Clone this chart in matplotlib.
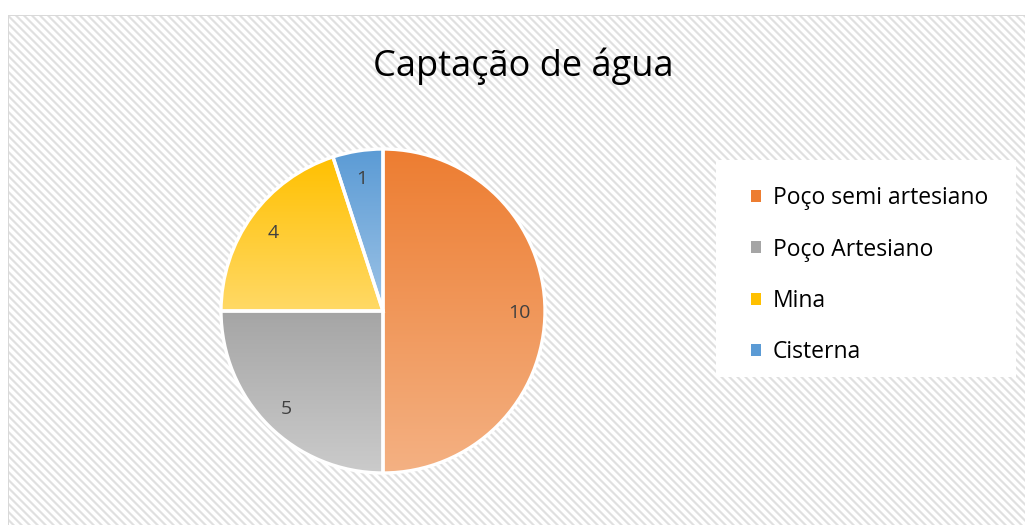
import numpy as np
import matplotlib
matplotlib.use("Agg")
import matplotlib.pyplot as plt
from matplotlib.colors import LinearSegmentedColormap, to_rgb

# ---- data ----
title = "Captação de água"
categories = ["Poço semi artesiano", "Poço Artesiano", "Mina", "Cisterna"]
values = [10, 5, 4, 1]
top_colors = ["#ED7D31", "#A5A5A5", "#FFC000", "#5B9BD5"]
bottom_colors = ["#F4B183", "#CBCBCB", "#FFD966", "#9DC3E6"]

W, H = 1025, 525
fig = plt.figure(figsize=(W / 100, H / 100), dpi=100)
fig.patch.set_facecolor("white")

# ---- background hatch (chart area) ----
bg = fig.add_axes([0, 0, 1, 1], zorder=0)
yy, xx = np.mgrid[0:H, 0:W]
phase = (xx - yy) % 8
img = np.ones((H, W, 3))
g1 = np.array(to_rgb("#E0E0E0"))
g2 = np.array(to_rgb("#EEEEEE"))
img[(phase == 0) | (phase == 1)] = g1
img[(phase == 2) | (phase == 7)] = g2
outside = (xx < 8) | (yy < 15)
img[outside] = 1.0
border = ((xx == 8) & (yy >= 15)) | ((yy == 15) & (xx >= 8))
img[border] = np.array(to_rgb("#D9D9D9"))
bg.imshow(img, extent=[0, W, H, 0], interpolation="nearest", aspect="auto")
bg.set_xlim(0, W)
bg.set_ylim(H, 0)
bg.axis("off")

# legend white box
bg.add_patch(plt.Rectangle((716, 160), 300, 217, facecolor="white", edgecolor="none"))

# ---- pie ----
cx, cy, r = 383, 311, 162
ax = fig.add_axes([(cx - r) / W, (H - cy - r) / H, 2 * r / W, 2 * r / H], zorder=2)
ax.set_xlim(-1, 1)
ax.set_ylim(-1, 1)
ax.axis("off")

wedges, texts = ax.pie(values, startangle=90, counterclock=False, radius=1,
                       labels=[str(v) for v in values], labeldistance=0.84,
                       wedgeprops=dict(linewidth=0, edgecolor="none"),
                       textprops=dict(fontsize=14, color="#404040", family="Open Sans"))
for w, t, b in zip(wedges, top_colors, bottom_colors):
    w.set_facecolor("none")
    bb = w.get_path().get_extents(w.get_patch_transform())
    cmap = LinearSegmentedColormap.from_list("g", [t, b])
    grad = np.linspace(0, 1, 256).reshape(-1, 1)
    im = ax.imshow(grad, cmap=cmap, extent=[bb.x0, bb.x1, bb.y0, bb.y1],
                   origin="upper", aspect="auto", zorder=1, interpolation="bilinear")
    im.set_clip_path(w)
    w.set_edgecolor("white")
    w.set_linewidth(2.4)
    w.set_zorder(2)
for t in texts:
    t.set_zorder(3)
    t.set_ha("center")
    t.set_va("center_baseline")
ax.set_xlim(-1, 1)
ax.set_ylim(-1, 1)

# ---- title ----
fig.text(523 / W, 1 - 66 / H, title, ha="center", va="center", fontsize=26,
         family="Open Sans", color="black")

# ---- legend ----
handles = [plt.Rectangle((0, 0), 1, 1, facecolor=c, edgecolor="none") for c in top_colors]
leg = fig.legend(handles, categories, loc="upper left",
                 bbox_to_anchor=(751 / W, 1 - 186 / H), frameon=False,
                 prop=dict(family="Open Sans", size=16.5), handlelength=0.45,
                 handleheight=0.45, handletextpad=0.5, labelspacing=1.2,
                 borderaxespad=0, borderpad=0)
for t in leg.get_texts():
    t.set_color("black")

fig.savefig("out.png", dpi=100)
